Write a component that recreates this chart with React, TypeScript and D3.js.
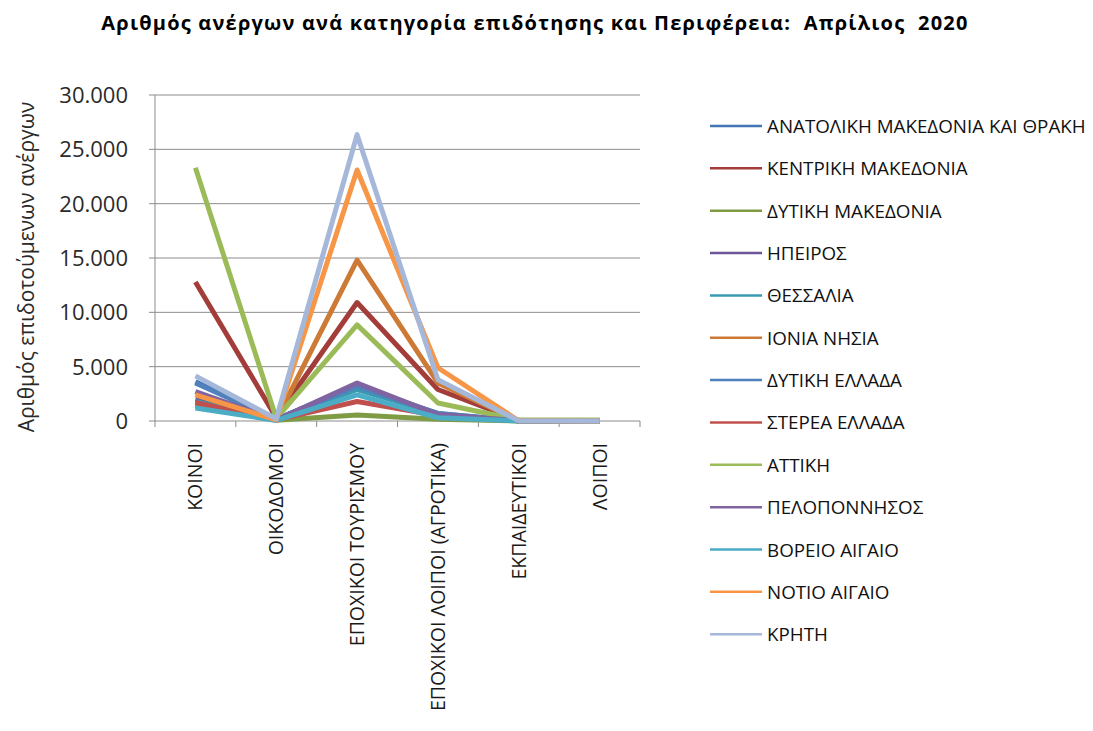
import React from "react";
import * as d3 from "d3";

const categories = [
  "ΚΟΙΝΟΙ",
  "ΟΙΚΟΔΟΜΟΙ",
  "ΕΠΟΧΙΚΟΙ ΤΟΥΡΙΣΜΟΥ",
  "ΕΠΟΧΙΚΟΙ ΛΟΙΠΟΙ (ΑΓΡΟΤΙΚΑ)",
  "ΕΚΠΑΙΔΕΥΤΙΚΟΙ",
  "ΛΟΙΠΟΙ",
];

const regions = [
  "ΑΝΑΤΟΛΙΚΗ ΜΑΚΕΔΟΝΙΑ ΚΑΙ ΘΡΑΚΗ",
  "ΚΕΝΤΡΙΚΗ ΜΑΚΕΔΟΝΙΑ",
  "ΔΥΤΙΚΗ ΜΑΚΕΔΟΝΙΑ",
  "ΗΠΕΙΡΟΣ",
  "ΘΕΣΣΑΛΙΑ",
  "ΙΟΝΙΑ ΝΗΣΙΑ",
  "ΔΥΤΙΚΗ ΕΛΛΑΔΑ",
  "ΣΤΕΡΕΑ ΕΛΛΑΔΑ",
  "ΑΤΤΙΚΗ",
  "ΠΕΛΟΠΟΝΝΗΣΟΣ",
  "ΒΟΡΕΙΟ ΑΙΓΑΙΟ",
  "ΝΟΤΙΟ ΑΙΓΑΙΟ",
  "ΚΡΗΤΗ",
];

// values per region, in category order
const anatMak = [3600, 150, 3300, 600, 30, 10];
const kentMak = [12800, 300, 10900, 2900, 50, 20];
const dytMak = [1400, 80, 550, 150, 10, 5];
const ipeiros = [2000, 100, 3300, 500, 20, 5];
const thessalia = [1800, 120, 2900, 700, 20, 10];
const ionia = [1500, 100, 14800, 3500, 20, 5];
const dytEllada = [3500, 150, 3200, 700, 20, 10];
const sterea = [1700, 100, 1800, 500, 20, 5];
const attiki = [23300, 250, 8850, 1650, 100, 100];
const peloponnisos = [2700, 100, 3500, 600, 20, 5];
const voreio = [1200, 50, 2400, 300, 10, 5];
const notio = [2400, 100, 23100, 4900, 20, 5];
const kriti = [4150, 200, 26350, 3800, 20, 10];

const series = [
  anatMak, kentMak, dytMak, ipeiros, thessalia, ionia, dytEllada,
  sterea, attiki, peloponnisos, voreio, notio, kriti,
];

const colors = [
  "#4475b4", "#a23d3a", "#7f9c45", "#6d5598", "#3b9ab2", "#cc7a35", "#4f81bd",
  "#c0504d", "#9bbb59", "#8064a2", "#4bacc6", "#f79646", "#a5b8d9",
];

const yTicks = [0, 5000, 10000, 15000, 20000, 25000, 30000];

const fmt = (v: number) => d3.format(",")(v).replace(/,/g, ".");

export default function App() {
  const left = 155, right = 640, top = 95, bottom = 421;
  const x = d3.scalePoint().domain(categories).range([left, right]).padding(0.5);
  const band = (right - left) / categories.length;
  const y = d3.scaleLinear().domain([0, 30000]).range([bottom, top]);
  const line = d3
    .line<number>()
    .x((_, i) => x(categories[i]) as number)
    .y((d) => y(d));

  const font = "'Open Sans', 'Noto Sans', sans-serif";

  return (
    <svg
      width={1093}
      height={731}
      style={{ position: "absolute", left: 0, top: 0, background: "#fff" }}
      fontFamily={font}
    >
      <text
        x={535}
        y={30}
        textAnchor="middle"
        fontSize={20}
        fontWeight="bold"
        letterSpacing={1.2}
        fill="#000"
        style={{ whiteSpace: "pre" }}
      >
        {"Αριθμός ανέργων ανά κατηγορία επιδότησης και Περιφέρεια:  Απρίλιος  2020"}
      </text>

      {yTicks.map((t) => (
        <g key={t}>
          <line x1={left} x2={right} y1={y(t)} y2={y(t)} stroke="#8c8c8c" strokeWidth={1} />
          <line x1={left - 6} x2={left} y1={y(t)} y2={y(t)} stroke="#8c8c8c" />
          <text x={128} y={y(t) + 8} textAnchor="end" fontSize={22} fill="#2a2a2a">
            {fmt(t)}
          </text>
        </g>
      ))}
      <line x1={left} x2={left} y1={top} y2={bottom} stroke="#8c8c8c" />

      <text
        transform={`translate(34,${(top + bottom) / 2 + 9}) rotate(-90)`}
        textAnchor="middle"
        fontSize={21}
        fill="#2a2a2a"
      >
        Αριθμός επιδοτούμενων ανέργων
      </text>

      {d3.range(categories.length + 1).map((i) => (
        <line
          key={i}
          x1={left + band * i}
          x2={left + band * i}
          y1={bottom}
          y2={bottom + 6}
          stroke="#8c8c8c"
        />
      ))}

      {categories.map((c) => (
        <text
          key={c}
          transform={`translate(${(x(c) as number) + 7},443) rotate(-90)`}
          textAnchor="end"
          fontSize={19.5}
          fill="#1a1a1a"
        >
          {c}
        </text>
      ))}

      {series.map((s, i) => (
        <path
          key={regions[i]}
          d={line(s) as string}
          fill="none"
          stroke={colors[i]}
          strokeWidth={5}
          strokeLinejoin="round"
        />
      ))}

      {regions.map((r, i) => {
        const ly = 126 + i * 42.35;
        return (
          <g key={r}>
            <line x1={710} x2={762} y1={ly} y2={ly} stroke={colors[i]} strokeWidth={2.5} />
            <text x={767} y={ly + 7} fontSize={18.8} fill="#111">
              {r}
            </text>
          </g>
        );
      })}
    </svg>
  );
}
